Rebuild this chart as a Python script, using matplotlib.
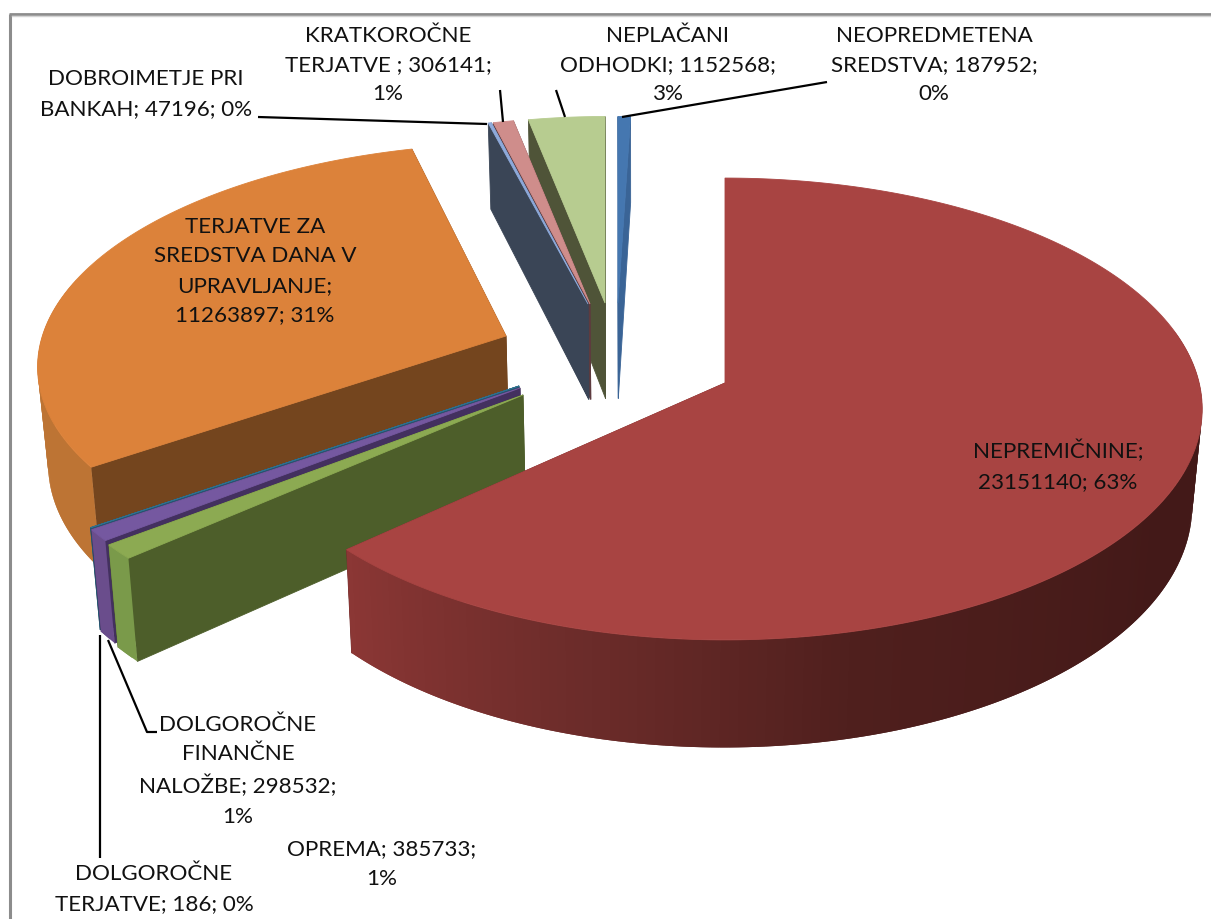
#!/usr/bin/env python3
"""Exploded 3D pie of assets, drawn by hand in pixel coordinates."""
import matplotlib
matplotlib.use("Agg")
import matplotlib.pyplot as plt
import numpy as np
from matplotlib.colors import to_rgb
from matplotlib.patches import Polygon

names = [
    "NEOPREDMETENA SREDSTVA",
    "NEPREMIČNINE",
    "OPREMA",
    "DOLGOROČNE FINANČNE NALOŽBE",
    "DOLGOROČNE TERJATVE",
    "TERJATVE ZA SREDSTVA DANA V UPRAVLJANJE",
    "DOBROIMETJE PRI BANKAH",
    "KRATKOROČNE TERJATVE",
    "NEPLAČANI ODHODKI",
]
values = [187952, 23151140, 385733, 298532, 186, 11263897, 47196, 306141, 1152568]
labels = [
    "NEOPREDMETENA\nSREDSTVA; 187952;\n0%",
    "NEPREMIČNINE;\n23151140; 63%",
    "OPREMA; 385733;\n1%",
    "DOLGOROČNE\nFINANČNE\nNALOŽBE; 298532;\n1%",
    "DOLGOROČNE\nTERJATVE; 186; 0%",
    "TERJATVE ZA\nSREDSTVA DANA V\nUPRAVLJANJE;\n11263897; 31%",
    "DOBROIMETJE PRI\nBANKAH; 47196; 0%",
    "KRATKOROČNE\nTERJATVE ; 306141;\n1%",
    "NEPLAČANI\nODHODKI; 1152568;\n3%",
]

# per slice layout: apex x, apex y, x scale, y scale, shear, start and end angle offset
layout = [
    (618, 303, 0.91, 0.91, 0, 0, 0),
    (725, 383, 0.992, 1.0, 0, -1.84, -0.84),
    (523, 395, 1.022, 0.997, 0, 0, 0),
    (520, 388, 1.023, 1.015, 0, 0, 0),
    (519, 386, 1.023, 1.015, 0, 0, 0),
    (506, 336, 0.97, 0.94, 14, 0, 0),
    (588, 304, 0.91, 0.91, 0, 0, 0),
    (590, 304, 0.91, 0.91, 0, 0, 0),
    (605, 303, 0.91, 0.91, 0, 0, 0),
]
top_colors = ["#4577b0", "#a84442", "#8caa52", "#7558a0", "#2f6f8f", "#dc823a",
              "#8eaadb", "#cf8d8b", "#b7cc90"]
cut_colors = ["#3a6496", "#6e2b2a", "#4d5e2a", "#43305f", "#24566f", "#74451e",
              "#3a4556", "#5e3b3f", "#4f5438"]
side_colors = ["#3a6496", None, "#7a9a4a", "#6a4d8c", "#2f6f8f", "#bd7434",
               "#8eaadb", "#a86a68", "#8a9c68"]
red_wall_stops = [0, 60, 120, 165, 195, 228]
red_wall_colors = ["#4a1d1b", "#431a18", "#431918", "#4f1f1d", "#6c2c2a", "#8c3735"]

# draw order, back to front
order = [0, 8, 7, 6, 5, 4, 3, 2, 1]

RX, RY, PERSP, DEPTH = 478, 228, 0.1125, 95.5
VANISH_X, VANISH_K = 636, 0.0176

fig = plt.figure(figsize=(12.11, 9.19), dpi=100)
ax = fig.add_axes([0, 0, 1, 1])
ax.set_xlim(0, 1211)
ax.set_ylim(919, 0)
ax.axis("off")

# chart frame, left and top only
ax.plot([10, 10], [919, 14], color="#8c8c8c", lw=2.2, solid_capstyle="butt")
ax.plot([9, 1211], [14, 14], color="#8c8c8c", lw=2.0, solid_capstyle="butt")
ax.plot([12, 1211], [15.5, 15.5], color="#d4d4d4", lw=1.0)

shares = np.array(values) / sum(values) * 360
ends = np.cumsum(shares)
starts = ends - shares


def top_xy(i, deg):
    ax0, ay0, fx, fy, shear = layout[i][:5]
    a = np.radians(deg)
    xx, yy = np.sin(a), -np.cos(a)
    s = 1 / (1 - PERSP * yy)
    return ax0 + RX * fx * xx * s - shear * yy * s, ay0 + RY * fy * yy * s, s


def bottom_xy(x, y, s):
    return x + (VANISH_X - x) * VANISH_K, y + DEPTH * s


def poly(pts, color, z, lw=0.6):
    ax.add_patch(Polygon(pts, closed=True, facecolor=color, edgecolor=color if lw else "none", lw=lw, zorder=z))


z = 1
for i in order:
    a0 = starts[i] + layout[i][5]
    a1 = ends[i] + layout[i][6]
    deg = np.linspace(a0, a1, max(2, int(shares[i]) + 2))
    x0, y0 = layout[i][0], layout[i][1]
    bx0, by0 = bottom_xy(x0, y0, 1)

    # cut faces; the big slice only shows its far one behind the rim
    for d in (a0, a1):
        if i == 1 and d == a0:
            continue
        x, y, s = top_xy(i, d)
        bx, by = bottom_xy(x, y, s)
        poly([(x0, y0), (x, y), (bx, by), (bx0, by0)], cut_colors[i], z)
    z += 1

    # outer wall, only the part that faces the viewer; each quad runs one
    # step past the next so no seams show between them
    for k in range(len(deg) - 1):
        a, b = deg[k], deg[min(k + 2, len(deg) - 1)]
        if -np.cos(np.radians(deg[k])) < -0.25:
            continue
        xa, ya, sa = top_xy(i, a)
        xb, yb, sb = top_xy(i, b)
        if side_colors[i] is None:
            rgb = [np.interp(deg[k], red_wall_stops, [to_rgb(c)[n] for c in red_wall_colors]) for n in range(3)]
        else:
            rgb = side_colors[i]
        poly([(xa, ya), (xb, yb), bottom_xy(xb, yb, sb), bottom_xy(xa, ya, sa)], rgb, z + k * 1e-3, lw=0)
    z += 1

    # top face
    rim = [top_xy(i, d)[:2] for d in deg]
    poly([(x0, y0)] + rim, top_colors[i], z)
    z += 1

# leader lines
leaders = [
    ([622, 827], [117, 82]),
    ([565, 556], [117, 90]),
    ([503, 500], [122, 90]),
    ([258, 487], [117, 124]),
    ([108, 147, 157], [640, 732, 732]),
    ([99.5, 99.5], [635, 858]),
]
for xs, ys in leaders:
    ax.plot(xs, ys, color="black", lw=1.6, zorder=z, solid_capstyle="butt")
z += 1

label_pos = [
    (934, 65), (1058, 466), (382, 864), (238, 771), (154, 889),
    (255, 271), (146, 94), (388, 65), (668, 65),
]
for text, (x, y) in zip(labels, label_pos):
    ax.text(x, y, text, ha="center", va="center", family="Lato", fontsize=16.1,
            linespacing=1.58, color="#111111", zorder=z)

fig.savefig("out.png", dpi=100, facecolor="white")
